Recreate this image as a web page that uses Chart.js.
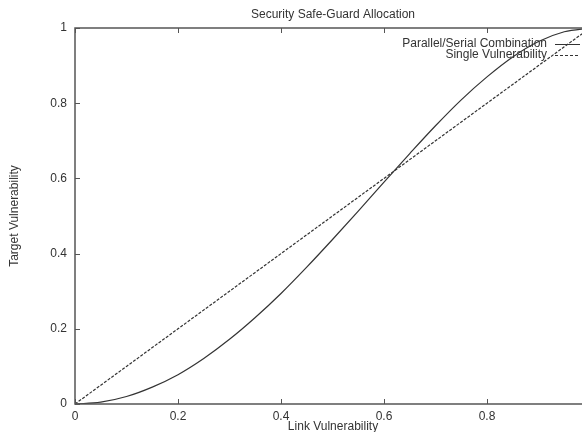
<!DOCTYPE html>
<html>
<head>
<meta charset="utf-8">
<script src="https://cdn.jsdelivr.net/npm/chart.js@4"></script>
<style>
  html, body { margin: 0; padding: 0; background: #fff; overflow: hidden; }
  #wrap { width: 592px; height: 432px; }
</style>
</head>
<body>
<div id="wrap"><canvas id="chart" width="592" height="432"></canvas></div>
<script>
const linkVuln = [0, 0.05, 0.1, 0.15, 0.2, 0.25, 0.3, 0.35, 0.4, 0.45, 0.5,
  0.55, 0.6, 0.65, 0.7, 0.75, 0.8, 0.85, 0.9, 0.95, 1];
const parallelSerial = [0, 0.005, 0.02, 0.045, 0.078, 0.121, 0.172, 0.23, 0.294, 0.364, 0.4375,
  0.513, 0.59, 0.666, 0.74, 0.809, 0.87, 0.923, 0.964, 0.99, 1];
const singleVuln = [0, 0.05, 0.1, 0.15, 0.2, 0.25, 0.3, 0.35, 0.4, 0.45, 0.5,
  0.55, 0.6, 0.65, 0.7, 0.75, 0.8, 0.85, 0.9, 0.95, 1];
const xTicks = [0, 0.2, 0.4, 0.6, 0.8];
const yTicks = [0, 0.2, 0.4, 0.6, 0.8, 1];

const FONT = '12px "Liberation Sans", Arial, sans-serif';
const INK = '#333';

const toPoints = (ys) => linkVuln.map((x, i) => ({ x, y: ys[i] }));

// gnuplot-like frame, inward ticks, title, axis names and key
const gnuplotLook = {
  id: 'gnuplotLook',
  afterDraw(chart) {
    const { ctx, chartArea: a, scales } = chart;
    const xs = scales.x, ys = scales.y;
    ctx.save();
    ctx.strokeStyle = '#555';
    ctx.lineWidth = 1.5;
    ctx.strokeRect(a.left, a.top, a.right - a.left, a.bottom - a.top);
    ctx.lineWidth = 1;
    ctx.beginPath();
    xTicks.forEach(v => {
      const p = Math.round(xs.getPixelForValue(v)) + 0.5;
      ctx.moveTo(p, a.bottom); ctx.lineTo(p, a.bottom - 5);
      ctx.moveTo(p, a.top); ctx.lineTo(p, a.top + 5);
    });
    yTicks.forEach(v => {
      const p = Math.round(ys.getPixelForValue(v)) + 0.5;
      ctx.moveTo(a.left, p); ctx.lineTo(a.left + 5, p);
    });
    ctx.stroke();

    ctx.fillStyle = INK;
    ctx.font = FONT;
    ctx.textAlign = 'center';
    ctx.textBaseline = 'middle';
    ctx.fillText('Security Safe-Guard Allocation', 333, 15);
    ctx.textBaseline = 'top';
    ctx.fillText('Link Vulnerability', 333, 421);
    ctx.save();
    ctx.translate(15, 216);
    ctx.rotate(-Math.PI / 2);
    ctx.textBaseline = 'middle';
    ctx.fillText('Target Vulnerability', 0, 0);
    ctx.restore();

    // key
    ctx.textAlign = 'right';
    ctx.textBaseline = 'middle';
    const rows = [['Parallel/Serial Combination', []], ['Single Vulnerability', [3, 2]]];
    rows.forEach(([label, dash], i) => {
      const y = 44 + i * 11;
      ctx.fillText(label, 547, y);
      ctx.beginPath();
      ctx.setLineDash(dash);
      ctx.strokeStyle = '#333';
      ctx.lineWidth = 1;
      ctx.moveTo(555, y + 0.5); ctx.lineTo(580, y + 0.5);
      ctx.stroke();
    });
    ctx.restore();
  }
};

new Chart(document.getElementById('chart'), {
  type: 'line',
  data: {
    datasets: [
      {
        label: 'Parallel/Serial Combination',
        data: toPoints(parallelSerial),
        borderColor: '#333',
        borderWidth: 1.2,
        pointRadius: 0,
        cubicInterpolationMode: 'monotone'
      },
      {
        label: 'Single Vulnerability',
        data: toPoints(singleVuln),
        borderColor: '#333',
        borderWidth: 1.2,
        borderDash: [3, 1.5],
        pointRadius: 0
      }
    ]
  },
  plugins: [gnuplotLook],
  options: {
    responsive: false,
    animation: false,
    layout: { padding: { top: 28, right: 2, left: 0, bottom: 0 } },
    plugins: { legend: { display: false }, title: { display: false }, tooltip: { enabled: false } },
    scales: {
      x: {
        type: 'linear', min: 0, max: 1,
        afterFit(s) { s.height = 28; },
        afterBuildTicks(s) { s.ticks = xTicks.map(v => ({ value: v })); },
        grid: { display: false, drawTicks: false },
        border: { display: false },
        ticks: { color: INK, font: { family: '"Liberation Sans", Arial, sans-serif', size: 12 }, padding: 5,
          callback: v => String(v) }
      },
      y: {
        type: 'linear', min: 0, max: 1,
        afterFit(s) { s.width = 75; },
        afterBuildTicks(s) { s.ticks = yTicks.map(v => ({ value: v })); },
        grid: { display: false, drawTicks: false },
        border: { display: false },
        ticks: { color: INK, font: { family: '"Liberation Sans", Arial, sans-serif', size: 12 }, padding: 8,
          callback: v => String(v) }
      }
    }
  }
});
</script>
</body>
</html>
